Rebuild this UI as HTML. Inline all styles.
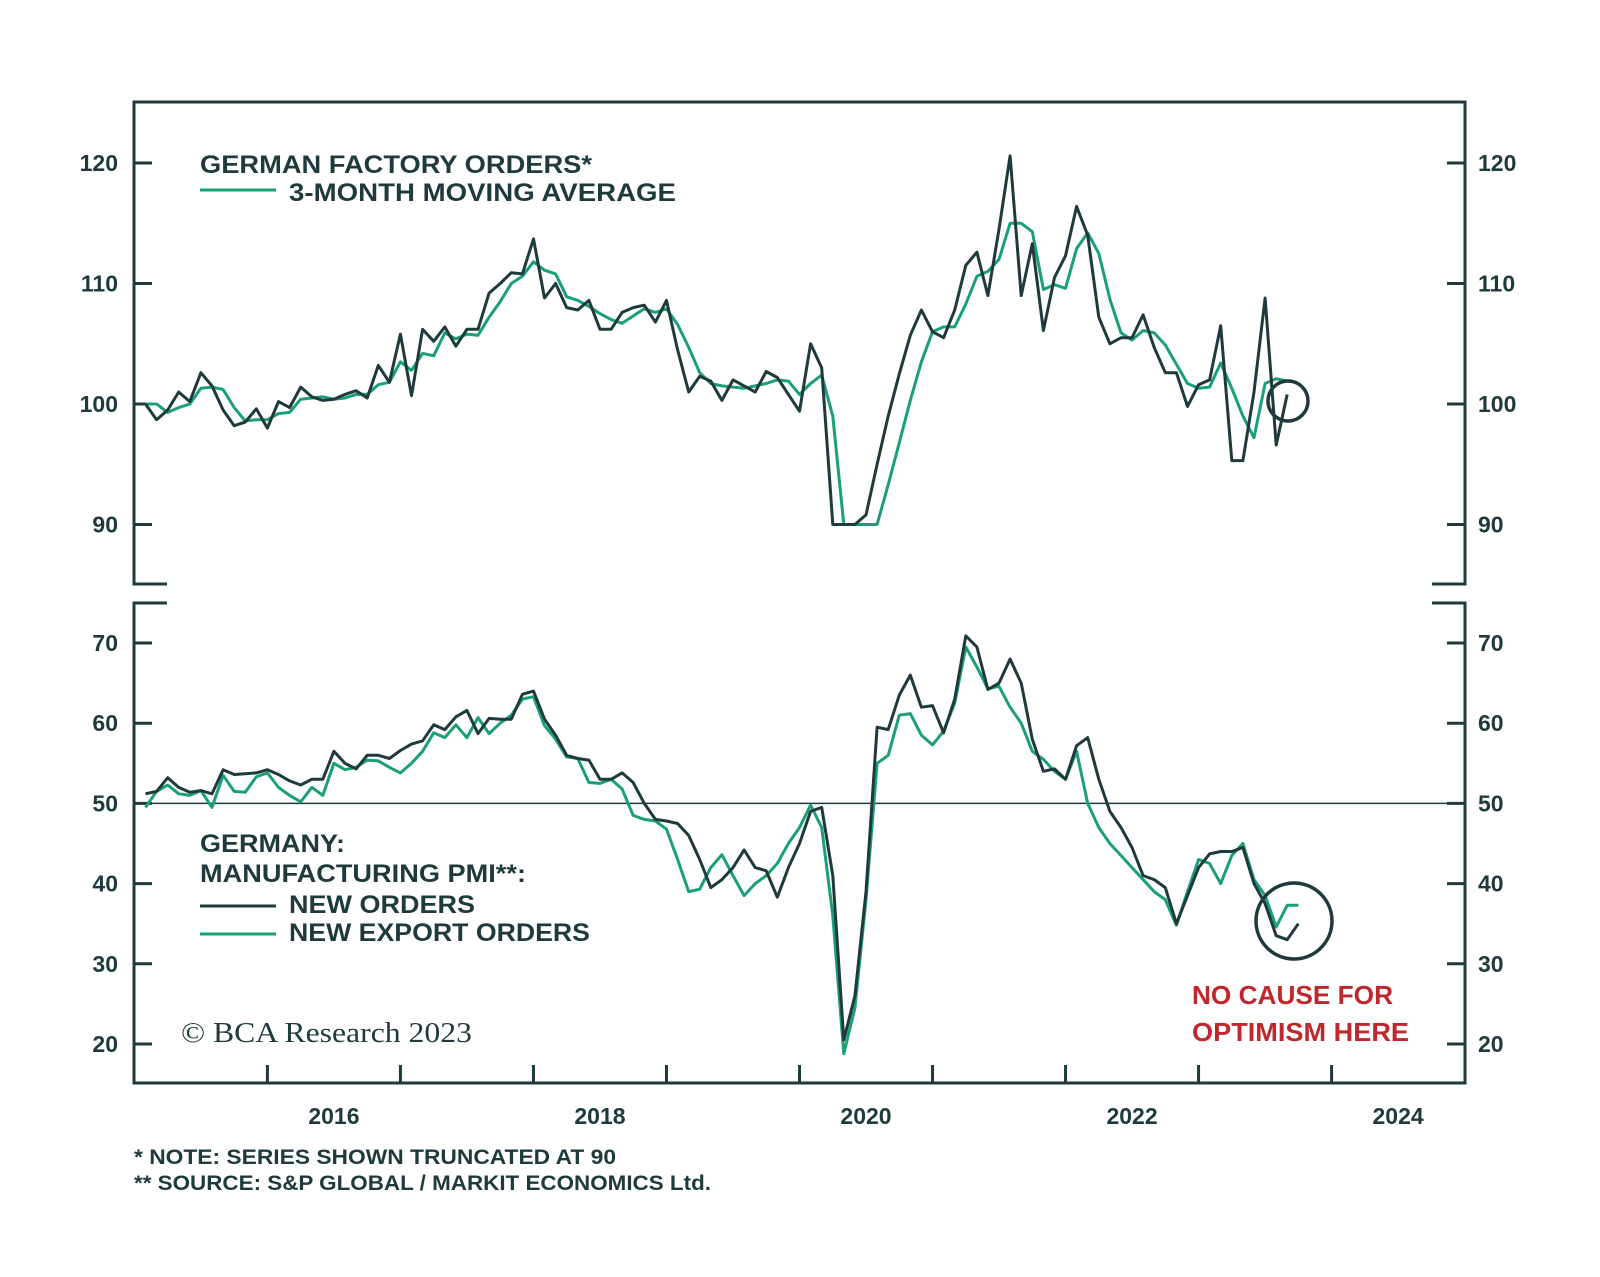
<!DOCTYPE html>
<html><head><meta charset="utf-8"><style>
body{margin:0;background:#fff;}
svg{display:block;font-family:"Liberation Sans",sans-serif;}
.tk{font-size:23px;font-weight:bold;fill:#1f3a3c;}
.lg{font-size:25px;font-weight:bold;fill:#1f3a3c;}
</style></head><body>
<svg id="chart" width="1600" height="1277" viewBox="0 0 1600 1277" xmlns="http://www.w3.org/2000/svg">
<g id="frame" stroke="#1f3a3c" stroke-width="3" fill="none">
<polyline points="167,584 134,584 134,102 1465,102 1465,584 1432,584"/>
<polyline points="167,603 134,603 134,1083 1465,1083 1465,603 1432,603"/>
</g>
<g id="axes"></g>
<g id="series"></g>
<g>
<text class="lg" x="200" y="173" textLength="392" lengthAdjust="spacingAndGlyphs">GERMAN FACTORY ORDERS*</text>
<line x1="200" y1="190" x2="276" y2="190" stroke="#19a078" stroke-width="3"/>
<text class="lg" x="289" y="201" textLength="387" lengthAdjust="spacingAndGlyphs">3-MONTH MOVING AVERAGE</text>
</g>
<g>
<text class="lg" x="200" y="852" textLength="145" lengthAdjust="spacingAndGlyphs">GERMANY:</text>
<text class="lg" x="200" y="882" textLength="326" lengthAdjust="spacingAndGlyphs">MANUFACTURING PMI**:</text>
<line x1="200" y1="906" x2="276" y2="906" stroke="#1f3a3c" stroke-width="3"/>
<text class="lg" x="289" y="913" textLength="186" lengthAdjust="spacingAndGlyphs">NEW ORDERS</text>
<line x1="200" y1="934" x2="276" y2="934" stroke="#19a078" stroke-width="3"/>
<text class="lg" x="289" y="941" textLength="301" lengthAdjust="spacingAndGlyphs">NEW EXPORT ORDERS</text>
</g>
<text x="181" y="1042" font-family="Liberation Serif,serif" font-size="28" fill="#1f3a3c" textLength="291" lengthAdjust="spacingAndGlyphs">© BCA Research 2023</text>
<text x="1192" y="1004" font-size="26" font-weight="bold" fill="#c0272d" textLength="201" lengthAdjust="spacingAndGlyphs">NO CAUSE FOR</text>
<text x="1192" y="1041" font-size="26" font-weight="bold" fill="#c0272d" textLength="217" lengthAdjust="spacingAndGlyphs">OPTIMISM HERE</text>
<circle cx="1288" cy="401" r="20" fill="none" stroke="#1f3a3c" stroke-width="3.5"/>
<circle cx="1294" cy="921" r="38" fill="none" stroke="#1f3a3c" stroke-width="3.5"/>
<text x="134" y="1164" font-size="21" font-weight="bold" fill="#1f3a3c" textLength="482" lengthAdjust="spacingAndGlyphs">*  NOTE: SERIES SHOWN TRUNCATED AT 90</text>
<text x="134" y="1190" font-size="21" font-weight="bold" fill="#1f3a3c" textLength="577" lengthAdjust="spacingAndGlyphs">** SOURCE: S&amp;P GLOBAL / MARKIT ECONOMICS Ltd.</text>
</svg>
<script>
const startYear = 2015, startMonth = 1; // first observation Feb 2015 (0-based month 1)
const yearTicks = [2016, 2018, 2020, 2022, 2024];
const topTicks = [90, 100, 110, 120];
const botTicks = [20, 30, 40, 50, 60, 70];
const ordersRaw = [100,98.7,99.5,101,100.2,102.6,101.5,99.5,98.2,98.5,99.6,98,100.2,99.7,101.4,100.6,100.3,100.4,100.8,101.1,100.5,103.2,101.8,105.8,100.7,106.2,105.2,106.4,104.8,106.2,106.2,109.2,110,110.9,110.8,113.7,108.8,110,108,107.8,108.6,106.2,106.2,107.6,108,108.2,106.8,108.6,104.5,101,102.3,101.9,100.3,102,101.5,101,102.7,102.2,100.8,99.4,105,103,90,90,90,90.8,95,99,102.5,105.7,107.8,106,105.5,107.8,111.5,112.6,109,114.5,120.6,109,113.3,106.1,110.5,112.3,116.4,114,107.2,105,105.5,105.5,107.4,104.7,102.6,102.6,99.8,101.6,102,106.5,95.3,95.3,101,108.8,96.6,100.8];
const ordersMA = [100,100,99.3,99.7,100,101.3,101.4,101.2,99.7,98.6,98.7,98.7,99.2,99.3,100.4,100.5,100.6,100.4,100.5,100.8,100.8,101.6,101.8,103.5,102.8,104.2,104,105.9,105.4,105.8,105.7,107.2,108.5,110,110.6,111.8,111.1,110.8,108.9,108.6,108.1,107.5,107,106.7,107.3,107.9,107.6,107.9,106.6,104.7,102.6,101.7,101.5,101.4,101.3,101.5,101.7,102,101.9,100.8,101.7,102.4,99,90,90,90,90,93.3,96.8,100.3,103.5,106,106.4,106.4,108.3,110.6,111,112,115,115,114.3,109.5,109.9,109.6,112.9,114.2,112.5,108.7,105.9,105.3,106.1,105.9,104.9,103.3,101.7,101.3,101.4,103.4,101.3,99,97.2,101.7,102.1,101.9];
const pmiNew = [51.2,51.5,53.2,52,51.4,51.6,51.2,54.2,53.6,53.7,53.8,54.2,53.6,52.8,52.3,53,53,56.5,55,54.3,56,56,55.6,56.6,57.4,57.8,59.8,59.2,60.8,61.6,58.7,60.6,60.5,60.5,63.6,64,60.5,58.5,56,55.6,55.4,53,53,53.8,52.6,50,48,47.8,47.5,46,43,39.5,40.5,42,44.2,42,41.6,38.3,42,45,49,49.5,41,20.5,26,39,59.5,59.2,63.5,66,62,62.2,58.8,63,70.9,69.5,64.2,65,68,65,58,54,54.3,53,57.2,58.2,53,49,47,44.5,41,40.5,39.5,35,38.5,42,43.7,44,44,44.5,40,37.5,33.5,33,35];
const pmiExport = [49.5,51.5,52.3,51.2,51,51.6,49.5,53.5,51.5,51.4,53.3,53.8,52,51,50.2,52,51,55,54.2,54.5,55.4,55.3,54.5,53.8,55,56.5,58.8,58.2,59.8,58.2,60.7,58.7,60,61,63,63.3,59.7,58,55.8,55.6,52.6,52.5,53,51.8,48.5,48,47.8,46.8,43,39,39.3,42,43.6,41,38.5,40,41,42.5,45,47,49.8,47,36,18.8,24.5,38,55,56,61,61.2,58.5,57.3,59,62.5,69.5,67,64.3,64.6,62,60,56.5,55.5,54,53,56.5,50,47,45,43.5,42,40.5,39,38,34.8,39,43,42.5,40,43.5,45,40.5,38.5,34.6,37.3,37.3];

const NS = "http://www.w3.org/2000/svg";
const X0 = 134.4, X1 = 1464.6, T0 = 2015, T1 = 2025;
function xDate(t){ return X0 + (t - T0) / (T1 - T0) * (X1 - X0); }
function xIdx(i){ return xDate(startYear + (startMonth + i) / 12); }
function yTop(v){ return 163 + (120 - v) * 12.05; }
function yBot(v){ return 643 + (70 - v) * 8.02; }
const axes = document.getElementById('axes');
const series = document.getElementById('series');
function mk(tag, attrs, parent){ const e = document.createElementNS(NS, tag); for (const k in attrs) e.setAttribute(k, attrs[k]); parent.appendChild(e); return e; }

topTicks.forEach(v => {
  const y = yTop(v);
  const l = mk('path', {d:`M134 ${y}H152M1447 ${y}H1465`, stroke:'#1f3a3c', 'stroke-width':3}, axes);
  
  
  const a = mk('text', {x:118, y:y+8, 'text-anchor':'end', class:'tk'}, axes); a.textContent = v;
  
  
  const b = mk('text', {x:1478, y:y+8, class:'tk'}, axes); b.textContent = v;
  
  
});
botTicks.forEach(v => {
  const y = yBot(v);
  const l = mk('path', {d:`M134 ${y}H152M1447 ${y}H1465`, stroke:'#1f3a3c', 'stroke-width':3}, axes);
  
  
  const a = mk('text', {x:118, y:y+8, 'text-anchor':'end', class:'tk'}, axes); a.textContent = v;
  
  
  const b = mk('text', {x:1478, y:y+8, class:'tk'}, axes); b.textContent = v;
  
  
});
const ref = mk('line', {x1:134, x2:1465, y1:yBot(50), y2:yBot(50), stroke:'#1f3a3c', 'stroke-width':1.5}, axes);


for (let yr = 2016; yr <= 2024; yr++) {
  const x = xDate(yr);
  const t = mk('line', {x1:x, x2:x, y1:1065, y2:1083, stroke:'#1f3a3c', 'stroke-width':3}, axes);
  
  
}
yearTicks.forEach(yr => {
  const t = mk('text', {x:xDate(yr + 0.5), y:1124, 'text-anchor':'middle', class:'tk'}, axes); t.textContent = yr;
  
  
});
function line(vals, yf, color, name){
  const p = mk('polyline', {points: vals.map((v,i)=>xIdx(i).toFixed(1)+','+yf(v).toFixed(1)).join(' '), fill:'none', stroke:color, 'stroke-width':3, 'stroke-linejoin':'round'}, series);
  
  
}
line(ordersMA, yTop, '#19a078', 'factory-orders-3m-avg-line');
line(ordersRaw, yTop, '#1f3a3c', 'factory-orders-line');
line(pmiExport, yBot, '#19a078', 'pmi-new-export-orders-line');
line(pmiNew, yBot, '#1f3a3c', 'pmi-new-orders-line');
</script>
</body></html>
